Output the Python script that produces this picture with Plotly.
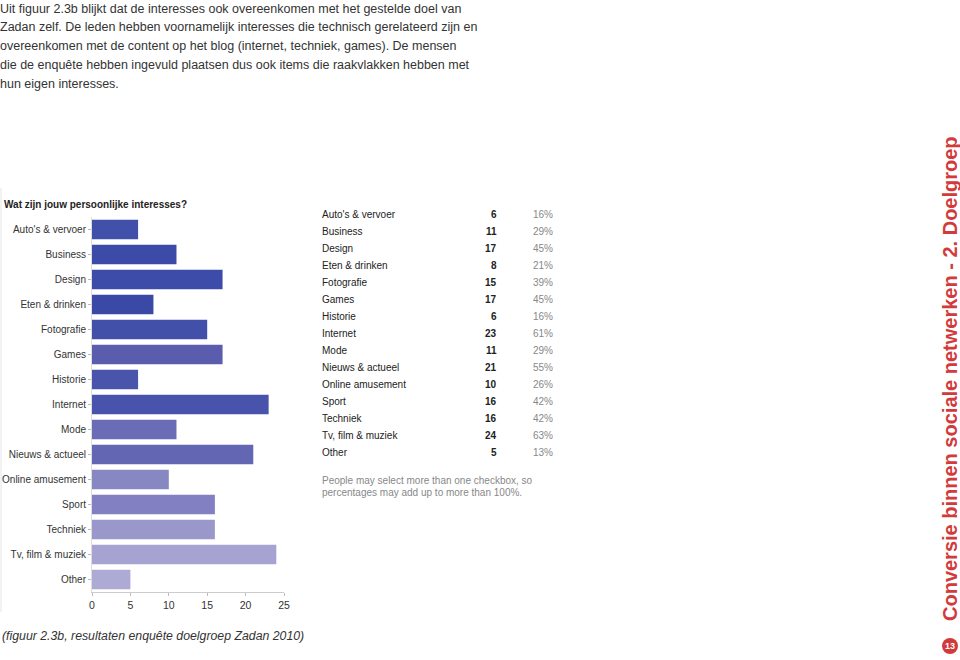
import plotly.graph_objects as go

W, H = 960, 660

categories = ["Auto's & vervoer", "Business", "Design", "Eten & drinken", "Fotografie",
              "Games", "Historie", "Internet", "Mode", "Nieuws & actueel",
              "Online amusement", "Sport", "Techniek", "Tv, film & muziek", "Other"]
counts = [6, 11, 17, 8, 15, 17, 6, 23, 11, 21, 10, 16, 16, 24, 5]
percents = [16, 29, 45, 21, 39, 45, 16, 61, 29, 55, 26, 42, 42, 63, 13]
x_ticks = [0, 5, 10, 15, 20, 25]

bar_colors = ["#4150a9", "#3c4ba7", "#3d4ca8", "#3a49a6", "#4350aa",
              "#5a5dae", "#4954ab", "#4853ab", "#6a6db5", "#6366b3",
              "#8787c2", "#8280c2", "#9a97cb", "#a6a3d3", "#aeaad6"]

intro = ["Uit figuur 2.3b blijkt dat de interesses ook overeenkomen met het gestelde doel van",
         "Zadan zelf. De leden hebben voornamelijk interesses die technisch gerelateerd zijn en",
         "overeenkomen met de content op het blog (internet, techniek, games). De mensen",
         "die de enquête hebben ingevuld plaatsen dus ook items die raakvlakken hebben met",
         "hun eigen interesses."]


def px(x):
    return x / W


def py(y):
    return 1 - y / H


FONT = "Liberation Sans, Arial, sans-serif"

fig = go.Figure(go.Bar(
    x=counts, y=categories, orientation="h",
    marker=dict(color=bar_colors, line=dict(width=0)),
    hoverinfo="x+y",
))

fig.update_layout(
    width=W, height=H, margin=dict(l=0, r=0, t=0, b=0, autoexpand=False),
    paper_bgcolor="white", plot_bgcolor="white",
    showlegend=False, bargap=0.22,
    font=dict(family=FONT, color="#333333", size=11),
    xaxis=dict(domain=[px(92), px(284)], range=[0, 25], tickvals=x_ticks,
               automargin=False,
               showgrid=False, zeroline=False, showline=True, linecolor="#cccccc",
               ticks="outside", ticklen=3, tickcolor="#bbbbbb",
               tickfont=dict(size=10.5, color="#333333"), fixedrange=True),
    yaxis=dict(domain=[py(592), py(217)], autorange="reversed",
               tickmode="array", tickvals=categories, automargin=False,
               showgrid=False, zeroline=False, showline=True, linecolor="#dddddd",
               ticks="outside", ticklen=3, tickcolor="#bbbbbb",
               tickfont=dict(size=10, color="#333333"), fixedrange=True),
)


def note(x, y, text, size=10, color="#222222", **kw):
    d = dict(x=px(x), y=py(y), xref="paper", yref="paper", text=text, showarrow=False,
             xanchor="left", yanchor="middle", font=dict(size=size, color=color, family=FONT))
    d.update(kw)
    return d


ann = []
# intro paragraph
for i, line in enumerate(intro):
    ann.append(note(-2, 8.5 + i * 18.8, line, size=12.5, color="#333333"))

# chart title
ann.append(note(2, 204, "<b>Wat zijn jouw persoonlijke interesses?</b>", size=10))

# summary table
for i, (c, n, p) in enumerate(zip(categories, counts, percents)):
    yy = 215 + i * 16.95
    ann.append(note(320, yy, c))
    ann.append(note(499, yy, "<b>%d</b>" % n, xanchor="right"))
    ann.append(note(555, yy, "%d%%" % p, color="#888888", xanchor="right"))

ann.append(note(320, 480, "People may select more than one checkbox, so", color="#888888"))
ann.append(note(320, 492, "percentages may add up to more than 100%.", color="#888888"))

# caption
ann.append(note(0, 636, "<i>(figuur 2.3b, resultaten enquête doelgroep Zadan 2010)</i>",
                size=12.3, color="#333333"))

# vertical side header
ann.append(note(950, 379, "<b>Conversie binnen sociale netwerken - 2. Doelgroep</b>",
                size=20, color="#d23a3c", textangle=-90, xanchor="center"))
ann.append(note(950, 646, "<b>13</b>", size=9, color="white", xanchor="center"))

fig.update_layout(annotations=ann)

fig.add_shape(type="circle", xref="paper", yref="paper",
              x0=px(942), x1=px(958), y0=py(654), y1=py(638),
              fillcolor="#d23a3c", line=dict(width=0), layer="below")
fig.add_shape(type="line", xref="paper", yref="paper",
              x0=px(1), x1=px(1), y0=py(188), y1=py(612),
              line=dict(color="#e6e6e6", width=1))

# the page body has a default 8px margin; drop it so the figure fills the window
fig.write_html("out.html", config={"displayModeBar": False},
               post_script="document.body.style.margin='0';")
